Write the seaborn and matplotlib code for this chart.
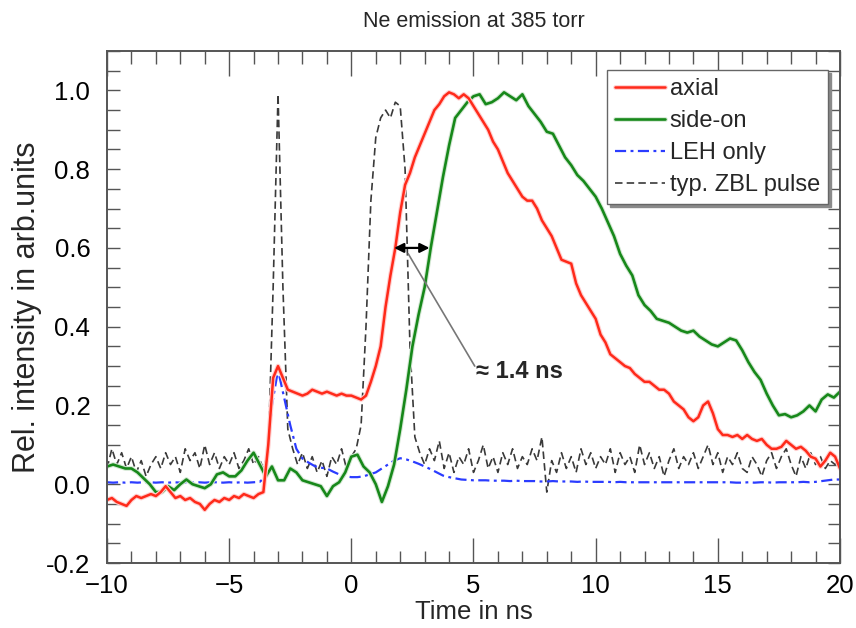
import numpy as np
import pandas as pd
import matplotlib
matplotlib.use("Agg")
import matplotlib.pyplot as plt
import matplotlib.patheffects as pe
from matplotlib.ticker import MultipleLocator, FormatStrFormatter
import seaborn as sns

# time grids (ns)
t_fine = np.round(np.arange(-10.0, 20.0001, 0.2), 2)    # axial + ZBL pulse
t_coarse = np.round(np.arange(-10.0, 20.0001, 0.25), 2)  # side-on + LEH only

axial = [
    -0.04, -0.035, -0.045, -0.05, -0.055, -0.04, -0.03, -0.035, -0.03, -0.025,
    -0.03, -0.02, -0.005, -0.02, -0.035, -0.03, -0.04, -0.035, -0.045, -0.05,
    -0.065, -0.05, -0.04, -0.045, -0.035, -0.04, -0.03, -0.035, -0.025, -0.03,
    -0.035, -0.025, -0.02, 0.10, 0.27, 0.30, 0.27, 0.24, 0.235, 0.23,
    0.225, 0.23, 0.24, 0.235, 0.23, 0.235, 0.23, 0.225, 0.23, 0.225,
    0.225, 0.22, 0.215, 0.225, 0.26, 0.30, 0.35, 0.45, 0.53, 0.60,
    0.69, 0.76, 0.79, 0.83, 0.86, 0.89, 0.92, 0.95, 0.965, 0.985,
    0.995, 0.99, 0.98, 0.99, 0.98, 0.96, 0.94, 0.92, 0.90, 0.87,
    0.85, 0.82, 0.79, 0.77, 0.75, 0.73, 0.72, 0.72, 0.70, 0.67,
    0.65, 0.63, 0.60, 0.57, 0.565, 0.56, 0.51, 0.48, 0.46, 0.44,
    0.42, 0.38, 0.36, 0.33, 0.32, 0.31, 0.30, 0.295, 0.28, 0.27,
    0.26, 0.26, 0.25, 0.24, 0.24, 0.23, 0.21, 0.20, 0.19, 0.17,
    0.16, 0.17, 0.20, 0.21, 0.18, 0.14, 0.125, 0.125, 0.12, 0.125,
    0.115, 0.125, 0.115, 0.11, 0.115, 0.10, 0.09, 0.09, 0.095, 0.11,
    0.10, 0.09, 0.095, 0.085, 0.07, 0.065, 0.045, 0.06, 0.08, 0.07,
    0.04,
]

side_on = [
    0.045, 0.05, 0.045, 0.04, 0.04, 0.03, 0.015, 0.0,
    -0.02, -0.02, -0.005, -0.015, 0.0, 0.012, 0.0, -0.005,
    -0.01, 0.0, 0.025, 0.03, 0.02, 0.02, 0.035, 0.06,
    0.08, 0.05, 0.02, 0.045, 0.01, 0.01, 0.04, 0.03,
    0.01, 0.005, 0.0, -0.005, -0.03, -0.005, 0.005, 0.03,
    0.07, 0.075, 0.045, 0.03, 0.0, -0.045, -0.005, 0.05,
    0.14, 0.24, 0.35, 0.43, 0.50, 0.60, 0.69, 0.78,
    0.86, 0.93, 0.95, 0.97, 0.985, 0.99, 0.965, 0.97,
    0.98, 0.995, 0.985, 0.975, 0.99, 0.96, 0.94, 0.92,
    0.895, 0.89, 0.86, 0.83, 0.81, 0.785, 0.77, 0.75,
    0.73, 0.70, 0.665, 0.63, 0.585, 0.555, 0.53, 0.48,
    0.455, 0.44, 0.42, 0.415, 0.41, 0.40, 0.39, 0.385,
    0.39, 0.375, 0.365, 0.355, 0.35, 0.36, 0.37, 0.365,
    0.34, 0.31, 0.285, 0.265, 0.23, 0.20, 0.175, 0.178,
    0.17, 0.175, 0.185, 0.20, 0.185, 0.215, 0.228, 0.22,
    0.235,
]

leh_only = [
    0.005, 0.004, 0.005, 0.004, 0.005, 0.004, 0.005, 0.005,
    0.004, 0.005, 0.004, 0.005, 0.004, 0.005, 0.004, 0.005,
    0.004, 0.005, 0.005, 0.004, 0.005, 0.004, 0.005, 0.004,
    0.005, 0.006, 0.02, 0.20, 0.29, 0.22, 0.15, 0.09,
    0.065, 0.055, 0.046, 0.042, 0.04, 0.032, 0.025, 0.02,
    0.018, 0.018, 0.02, 0.025, 0.03, 0.04, 0.05, 0.06,
    0.066, 0.063, 0.058, 0.052, 0.045, 0.038, 0.03, 0.022,
    0.018, 0.015, 0.012, 0.011, 0.01, 0.01, 0.01, 0.009,
    0.009, 0.009, 0.008, 0.009, 0.008, 0.008, 0.008, 0.007,
    0.007, 0.008, 0.007, 0.007, 0.007, 0.006, 0.007, 0.006,
    0.006, 0.006, 0.006, 0.005, 0.006, 0.005, 0.005, 0.005,
    0.005, 0.005, 0.005, 0.005, 0.005, 0.005, 0.005, 0.005,
    0.005, 0.005, 0.005, 0.005, 0.005, 0.005, 0.005, 0.004,
    0.004, 0.005, 0.004, 0.005, 0.005, 0.004, 0.005, 0.005,
    0.005, 0.005, 0.006, 0.005, 0.006, 0.008, 0.010, 0.012,
    0.012,
]

zbl_pulse = [
    0.04, 0.09, 0.05, 0.08, 0.04, 0.07, 0.03, 0.06, 0.02, 0.05,
    0.07, 0.04, 0.08, 0.05, 0.07, 0.03, 0.09, 0.06, 0.08, 0.04,
    0.10, 0.05, 0.08, 0.04, 0.07, 0.05, 0.08, 0.04, 0.06, 0.09,
    0.05, 0.07, 0.04, 0.08, 0.50, 0.99, 0.50, 0.14, 0.09, 0.05,
    0.08, 0.04, 0.07, 0.03, 0.06, 0.02, 0.07, 0.05, 0.09, 0.04,
    0.07, 0.09, 0.15, 0.40, 0.72, 0.88, 0.93, 0.95, 0.93, 0.97,
    0.96, 0.80, 0.35, 0.12, 0.08, 0.05, 0.09, 0.06, 0.11, 0.04,
    0.08, 0.03, 0.07, 0.05, 0.09, 0.03, 0.06, 0.10, 0.04, 0.07,
    0.03, 0.08, 0.05, 0.09, 0.04, 0.07, 0.05, 0.09, 0.06, 0.12,
    -0.02, 0.06, 0.03, 0.08, 0.04, 0.07, 0.03, 0.09, 0.05, 0.08,
    0.04, 0.07, 0.05, 0.09, 0.03, 0.08, 0.05, 0.07, 0.03, 0.10,
    0.05, 0.08, 0.04, 0.07, 0.02, 0.06, 0.09, 0.04, 0.07, 0.05,
    0.08, 0.04, 0.07, 0.10, 0.05, 0.08, 0.03, 0.07, 0.05, 0.08,
    0.04, 0.03, 0.07, 0.05, 0.02, 0.06, 0.08, 0.04, 0.07, 0.09,
    0.05, 0.02, 0.07, 0.04, 0.08, 0.05, 0.07, 0.04, 0.06, 0.05,
    0.06,
]

series_labels = ["axial", "side-on", "LEH only", "typ. ZBL pulse"]

# rise-time marker: onset of axial vs side-on at the 0.6 level
rise_level = 0.6
rise_start, rise_end = 1.75, 3.2
rise_text = "\u2248 1.4 ns"

sns.set_theme(style="ticks")
plt.rcParams["font.family"] = ["Liberation Sans", "DejaVu Sans"]

fig = plt.figure(figsize=(8.56, 6.28), dpi=100)
ax = fig.add_axes([0.125, 0.1035, 0.8563, 0.8153])

df_fine = pd.DataFrame({"t": t_fine, "axial": axial, "zbl": zbl_pulse})
df_coarse = pd.DataFrame({"t": t_coarse, "side": side_on, "leh": leh_only})

sns.lineplot(data=df_fine, x="t", y="zbl", ax=ax, color="#3a3a3a", lw=1.2,
             estimator=None, label=series_labels[3])
ax.lines[-1].set_dashes([4.5, 2.5])

sns.lineplot(data=df_coarse, x="t", y="leh", ax=ax, color="#2b3cff", lw=1.6,
             estimator=None, label=series_labels[2])
ax.lines[-1].set_dashes([5, 2, 1.3, 2])

sns.lineplot(data=df_coarse, x="t", y="side", ax=ax, color="#17881a", lw=1.9,
             estimator=None, label=series_labels[1])
ax.lines[-1].set_path_effects([pe.Stroke(linewidth=3.4, foreground="#d3e8d3"), pe.Normal()])

sns.lineplot(data=df_fine, x="t", y="axial", ax=ax, color="#ff2a1a", lw=1.8,
             estimator=None, label=series_labels[0])
ax.lines[-1].set_path_effects([pe.Stroke(linewidth=3.4, foreground="#ffcfcf"), pe.Normal()])

# rise-time arrow, leader and label
ax.annotate("", xy=(rise_start, rise_level), xytext=(rise_end, rise_level),
            arrowprops=dict(arrowstyle="<|-|>", color="black", lw=1.6,
                            mutation_scale=14, shrinkA=0, shrinkB=0))
ax.plot([2.33, 5.05], [0.585, 0.30], color="#777777", lw=1.2)
ax.text(5.1, 0.285, rise_text, fontsize=17, fontweight="bold", va="center", ha="left")

ax.set_xlim(-10, 20)
ax.set_ylim(-0.2, 1.1)
ax.xaxis.set_major_locator(MultipleLocator(5))
ax.xaxis.set_minor_locator(MultipleLocator(1))
ax.yaxis.set_major_locator(MultipleLocator(0.2))
ax.yaxis.set_minor_locator(MultipleLocator(0.05))
ax.yaxis.set_major_formatter(FormatStrFormatter("%.1f"))

ax.tick_params(axis="both", which="both", direction="in", top=True, right=True,
               color="#555555", width=1.0, labelsize=18.5, labelcolor="black")
ax.tick_params(axis="x", which="major", length=18, pad=8)
ax.tick_params(axis="x", which="minor", length=9)
ax.tick_params(axis="y", which="both", length=9, pad=12)
for s in ax.spines.values():
    s.set_color("#555555")
    s.set_linewidth(1.4)

ax.set_xlabel("Time in ns", fontsize=18.5, labelpad=1)
ax.set_ylabel("Rel. intensity in arb.units", fontsize=22, labelpad=3)
ax.set_title("Ne emission at 385 torr", fontsize=15.5, pad=17)

handles, labels = ax.get_legend_handles_labels()
order = [labels.index(l) for l in series_labels]
leg = ax.legend([handles[i] for i in order], [labels[i] for i in order],
                loc="upper right", bbox_to_anchor=(0.984, 0.963), borderaxespad=0,
                fontsize=17, frameon=True, fancybox=False,
                shadow={"ox": 2, "oy": -2, "color": "#8a8a8a", "alpha": 1.0},
                handlelength=2.1, handletextpad=0.2, labelspacing=0.42,
                borderpad=0.35)
leg.get_frame().set_edgecolor("#666666")
leg.get_frame().set_linewidth(1.0)
leg.get_frame().set_alpha(1.0)

fig.savefig("out.png", dpi=100)
